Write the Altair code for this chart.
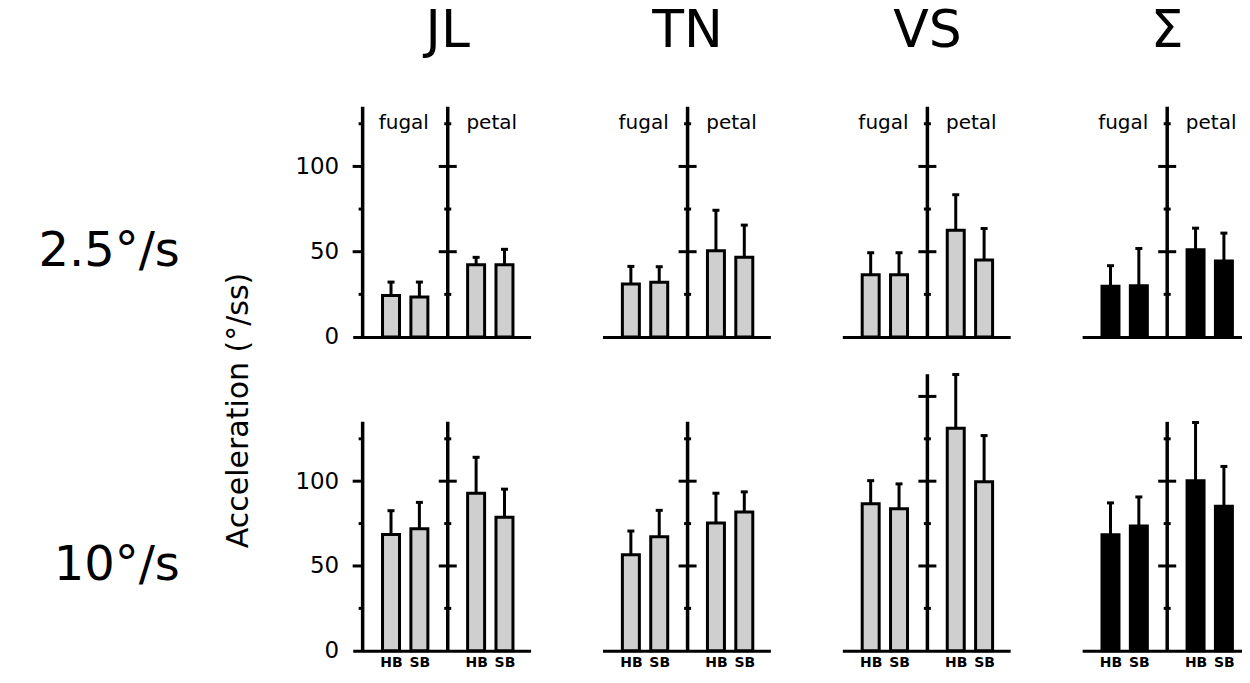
import altair as alt
import pandas as pd

FONT = "DejaVu Sans"

subjects = ["JL", "TN", "VS", "Σ"]
speed_labels = ["2.5°/s", "10°/s"]
bodies = ["HB", "SB", "HB", "SB"]
directions = ["fugal", "petal"]
bar_pos = [1, 2, 4, 5]
center_axis = 3
direction_pos = [1.45, 4.55]
major_ticks = [50, 100, 150]
minor_ticks = [25, 75, 125]
y_labels = [0, 50, 100]

# 2.5°/s  (mean, top of error bar)
jl_slow_mean = [24.4, 23.4, 42.4, 42.4]
jl_slow_err = [32.2, 32.2, 46.7, 51.4]
tn_slow_mean = [31.1, 32.1, 50.6, 46.7]
tn_slow_err = [41.4, 41.2, 74.3, 65.6]
vs_slow_mean = [36.5, 36.5, 62.6, 45.2]
vs_slow_err = [49.4, 49.4, 83.4, 63.6]
sum_slow_mean = [29.7, 30.1, 51.1, 44.5]
sum_slow_err = [41.8, 51.9, 63.8, 60.9]

# 10°/s
jl_fast_mean = [68.5, 72.0, 92.9, 78.7]
jl_fast_err = [82.6, 87.5, 114.1, 95.3]
tn_fast_mean = [56.6, 67.2, 75.4, 81.8]
tn_fast_err = [70.6, 82.8, 92.9, 93.7]
vs_fast_mean = [86.7, 83.8, 131.2, 99.7]
vs_fast_err = [100.3, 98.4, 162.9, 126.9]
sum_fast_mean = [68.4, 73.6, 100.3, 85.2]
sum_fast_err = [87.2, 90.7, 134.6, 108.7]

axis_top_slow = [135, 135, 135, 135]
axis_top_fast = [135, 135, 163, 135]

slow_means = [jl_slow_mean, tn_slow_mean, vs_slow_mean, sum_slow_mean]
slow_errs = [jl_slow_err, tn_slow_err, vs_slow_err, sum_slow_err]
fast_means = [jl_fast_mean, tn_fast_mean, vs_fast_mean, sum_fast_mean]
fast_errs = [jl_fast_err, tn_fast_err, vs_fast_err, sum_fast_err]

ROW_DOMAIN = [140, 165]
ROW_HEIGHT = [239, 280]
XMAX = 5.92


def panel(subject, row, mean, err, top):
    first = subject == subjects[0]
    bottom = row == 1
    xmin = -0.35 if first else 0
    width = 178 if first else 168
    xs = alt.Scale(domain=[xmin, XMAX], nice=False, zero=False, padding=0)
    ys = alt.Scale(domain=[0, ROW_DOMAIN[row]], nice=False, padding=0)
    label_expr = " : ".join(f"datum.value == {p} ? '{b}'" for p, b in zip(bar_pos, bodies)) + " : ''"
    xaxis = alt.Axis(title=None, grid=False, ticks=False, tickSize=0, domain=True,
                     domainColor="black", domainWidth=3, labels=bottom, values=bar_pos,
                     labelExpr=label_expr, labelFont=FONT, labelFontSize=14,
                     labelFontWeight="bold", labelColor="black", labelPadding=5)
    if first:
        kw = dict(values=y_labels, grid=False, domain=False, ticks=False, tickSize=0,
                  labelPadding=14, labelFont=FONT, labelFontSize=23, labelColor="black")
        if row == 0:
            kw.update(title="Acceleration (°/ss)", titleFont=FONT, titleFontSize=30,
                      titleFontWeight="normal", titleColor="black", titleAngle=270,
                      titleAlign="center", titleBaseline="middle", titleX=-114, titleY=312)
        else:
            kw.update(title=None)
        yaxis = alt.Axis(**kw)
    else:
        yaxis = None

    df = pd.DataFrame({"x": bar_pos, "mean": mean, "err": err, "body": bodies})
    fill = "black" if subject == "Σ" else "#cfcfcf"

    bars = alt.Chart(df).mark_bar(size=17, fill=fill, stroke="black", strokeWidth=3,
                                  orient="vertical").encode(
        x=alt.X("x:Q", scale=xs, axis=xaxis),
        y=alt.Y("mean:Q", scale=ys, axis=yaxis),
    )
    stems = alt.Chart(df).mark_rule(strokeWidth=3, color="black").encode(
        x="x:Q", y="mean:Q", y2="err:Q")
    caps = alt.Chart(df).mark_tick(orient="horizontal", size=7, thickness=3,
                                   color="black", opacity=1).encode(x="x:Q", y="err:Q")

    ax_x = [0, center_axis] if first else [center_axis]
    axes_df = pd.DataFrame({"x": ax_x, "y0": [0] * len(ax_x), "top": [top] * len(ax_x)})
    vlines = alt.Chart(axes_df).mark_rule(strokeWidth=3.5, color="black").encode(
        x="x:Q", y="y0:Q", y2="top:Q")

    maj_df = pd.DataFrame({"y": [t for t in major_ticks if t < top]})
    min_df = pd.DataFrame({"y": [t for t in minor_ticks if t < top]})
    cmaj = alt.Chart(maj_df).mark_tick(orient="horizontal", size=18, thickness=3,
                                       color="black", opacity=1).encode(
        x=alt.datum(center_axis), y="y:Q")
    cmin = alt.Chart(min_df).mark_tick(orient="horizontal", size=7, thickness=3,
                                       color="black", opacity=1).encode(
        x=alt.datum(center_axis), y="y:Q")
    layers = [bars, stems, caps, vlines, cmaj, cmin]

    if first:
        lmaj = alt.Chart(maj_df).mark_tick(orient="horizontal", size=10, thickness=3,
                                           xOffset=-5, color="black", opacity=1).encode(
            x=alt.datum(0), y="y:Q")
        lmin = alt.Chart(min_df).mark_tick(orient="horizontal", size=4, thickness=3,
                                           xOffset=-2, color="black", opacity=1).encode(
            x=alt.datum(0), y="y:Q")
        layers += [lmaj, lmin]

    if row == 0:
        dir_df = pd.DataFrame({"x": direction_pos, "t": directions, "y": [122, 122]})
        dirs = alt.Chart(dir_df).mark_text(font=FONT, fontSize=20, baseline="alphabetic",
                                           align="center", color="black").encode(
            x="x:Q", y="y:Q", text="t:N")
        layers.append(dirs)

    props = dict(width=width, height=ROW_HEIGHT[row])
    if row == 0:
        dx = (center_axis - xmin) * width / (XMAX - xmin) - width / 2
        props["title"] = alt.TitleParams(text=subject, font=FONT, fontSize=52,
                                         fontWeight="normal", color="black",
                                         anchor="middle", frame="group", dx=dx,
                                         offset=-1, baseline="alphabetic")
    return alt.layer(*layers).properties(**props)


def row_label(text, row):
    ys = alt.Scale(domain=[0, ROW_DOMAIN[row]], nice=False)
    df = pd.DataFrame({"t": [text], "y": [50]})
    return alt.Chart(df).mark_text(font=FONT, fontSize=48, align="right",
                                   baseline="middle", color="black").encode(
        x=alt.value(172), y=alt.Y("y:Q", scale=ys, axis=None), text="t:N"
    ).properties(width=273, height=ROW_HEIGHT[row])


cells = [row_label(speed_labels[0], 0)]
for i, s in enumerate(subjects):
    cells.append(panel(s, 0, slow_means[i], slow_errs[i], axis_top_slow[i]))
cells.append(row_label(speed_labels[1], 1))
for i, s in enumerate(subjects):
    cells.append(panel(s, 1, fast_means[i], fast_errs[i], axis_top_fast[i]))

chart = alt.concat(*cells, columns=5, spacing={"row": 34, "column": 72},
                   bounds="flush").properties(
    padding={"left": 0, "top": -3, "right": -8, "bottom": -1}
).configure(background="white").configure_view(strokeWidth=0, stroke="transparent")

chart.save("out.html", embed_options={"renderer": "svg", "actions": False})
